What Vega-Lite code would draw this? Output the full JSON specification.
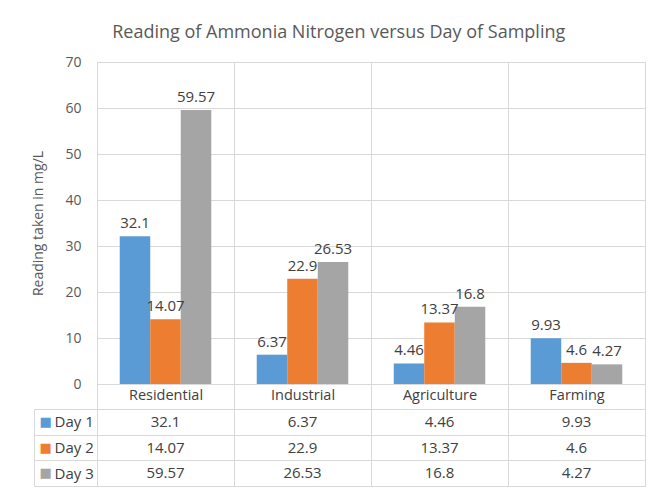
{
  "$schema": "https://vega.github.io/schema/vega-lite/v6.json",
  "padding": {"left": 31, "top": 23, "right": 0, "bottom": 0},
  "background": "white",
  "config": {
    "font": "Open Sans",
    "view": {"stroke": "#D9D9D9"},
    "axis": {"gridColor": "#D9D9D9", "domainColor": "#D9D9D9", "tickColor": "#D9D9D9", "labelFont": "Open Sans", "labelColor": "#595959", "labelFontSize": 14, "titleFont": "Open Sans", "titleColor": "#595959", "titleFontWeight": "normal", "titleFontSize": 14}
  },
  "title": {"text": "Reading of Ammonia Nitrogen versus Day of Sampling", "font": "Open Sans", "fontSize": 18, "fontWeight": "normal", "color": "#595959", "anchor": "middle", "offset": 13},
  "data": {"values": [
    {"category": "Residential", "day": "Day 1", "value": 32.1},
    {"category": "Residential", "day": "Day 2", "value": 14.07},
    {"category": "Residential", "day": "Day 3", "value": 59.57},
    {"category": "Industrial", "day": "Day 1", "value": 6.37},
    {"category": "Industrial", "day": "Day 2", "value": 22.9},
    {"category": "Industrial", "day": "Day 3", "value": 26.53},
    {"category": "Agriculture", "day": "Day 1", "value": 4.46},
    {"category": "Agriculture", "day": "Day 2", "value": 13.37},
    {"category": "Agriculture", "day": "Day 3", "value": 16.8},
    {"category": "Farming", "day": "Day 1", "value": 9.93},
    {"category": "Farming", "day": "Day 2", "value": 4.6},
    {"category": "Farming", "day": "Day 3", "value": 4.27}
  ]},
  "spacing": -11,
  "vconcat": [
    {
      "width": 548,
      "height": 322,
      "encoding": {
        "x": {"field": "category", "type": "nominal", "sort": null, "scale": {"paddingInner": 0, "paddingOuter": 0},
              "axis": {"title": null, "labels": false, "ticks": false, "domain": true, "grid": true, "bandPosition": 0}},
        "xOffset": {"field": "day", "type": "nominal", "scale": {"paddingInner": 0, "paddingOuter": 0.745}},
        "y": {"field": "value", "type": "quantitative", "scale": {"domain": [0, 70]},
              "axis": {"title": "Reading taken in mg/L", "values": [0, 10, 20, 30, 40, 50, 60, 70], "ticks": false, "domain": false, "grid": true, "labelPadding": 16, "titlePadding": 19}}
      },
      "layer": [
        {
          "mark": {"type": "bar"},
          "encoding": {
            "color": {"field": "day", "type": "nominal", "scale": {"domain": ["Day 1", "Day 2", "Day 3"], "range": ["#5B9BD5", "#ED7D31", "#A5A5A5"]}, "legend": null}
          }
        },
        {
          "mark": {"type": "text", "baseline": "alphabetic", "dy": -8, "fontSize": 15, "color": "#404040", "font": "Open Sans"},
          "encoding": {"text": {"field": "value", "type": "quantitative"}}
        }
      ]
    },
    {
      "width": 548,
      "height": 77,
      "layer": [
        {
          "mark": {"type": "text", "fontSize": 15, "color": "#404040", "font": "Open Sans"},
          "encoding": {
            "x": {"field": "category", "type": "nominal", "sort": null, "scale": {"paddingInner": 0, "paddingOuter": 0},
                  "axis": {"orient": "top", "title": null, "labelAngle": 0, "tickBand": "extent", "tickSize": 27, "ticks": true, "domain": true, "grid": true, "labelBaseline": "middle", "labelPadding": -13.5, "labelColor": "#404040", "labelFontSize": 14.5}},
            "y": {"field": "day", "type": "nominal", "sort": null,
                  "axis": {"orient": "left", "title": null, "tickBand": "extent", "tickSize": 63, "ticks": true, "domain": false, "grid": true, "labelAlign": "left", "labelBaseline": "middle", "labelPadding": -20, "labelColor": "#404040", "labelFontSize": 15}},
            "text": {"field": "value", "type": "quantitative"}
          }
        },
        {
          "mark": {"type": "text", "opacity": 0},
          "encoding": {
            "y": {"field": "day", "type": "nominal", "sort": null,
                  "axis": {"orient": "left", "offset": 63, "title": null, "ticks": false, "domain": true, "grid": false, "labelExpr": "'■'", "labelFont": "DejaVu Sans", "labelFontSize": 13, "labelAlign": "left", "labelBaseline": "middle", "labelPadding": -5,
                           "labelColor": {"condition": [{"test": "datum.value === 'Day 1'", "value": "#5B9BD5"}, {"test": "datum.value === 'Day 2'", "value": "#ED7D31"}], "value": "#A5A5A5"}}},
            "text": {"value": ""}
          }
        }
      ],
      "resolve": {"axis": {"y": "independent"}}
    }
  ]
}
